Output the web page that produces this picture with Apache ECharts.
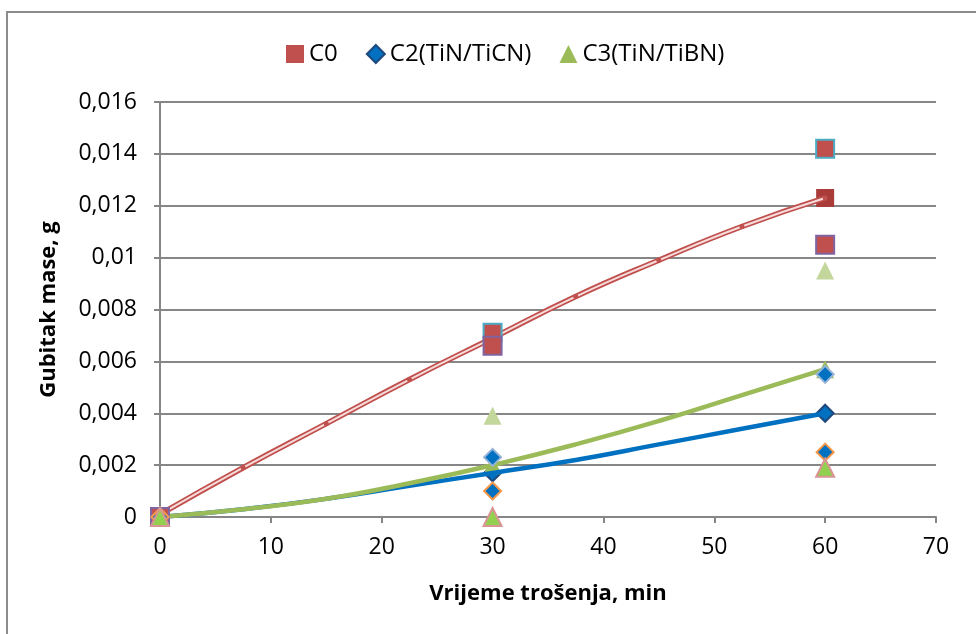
<!DOCTYPE html>
<html>
<head>
<meta charset="utf-8">
<script src="https://cdn.jsdelivr.net/npm/echarts@6/dist/echarts.min.js"></script>
<style>
  html, body { margin: 0; padding: 0; background: #fff; }
  #chart { width: 976px; height: 634px; }
</style>
</head>
<body>
<div id="chart"></div>
<script>
// measured samples, [time min, mass loss g]
const c0Upper = [[0, 0], [30, 0.0071], [60, 0.0142]]
const c0Lower = [[0, 0], [30, 0.0066], [60, 0.0105]]
const c0Mean = [[0, 0], [30, 0.0068], [60, 0.0123]]

const c2Upper = [[0, 0], [30, 0.0023], [60, 0.0055]]
const c2Lower = [[0, 0], [30, 0.0010], [60, 0.0025]]
const c2Mean = [[0, 0], [30, 0.0017], [60, 0.0040]]

const c3Upper = [[0, 0], [30, 0.0039], [60, 0.0095]]
const c3Lower = [[0, 0], [30, 0.0000], [60, 0.0019]]
const c3Mean = [[0, 0], [30, 0.0020], [60, 0.0057]]

// trend curves
const trendX = [0, 7.5, 15, 22.5, 30, 37.5, 45, 52.5, 60]
const c0Trend = [0.0001, 0.0019, 0.0036, 0.0053, 0.0069, 0.0085, 0.0099, 0.0112, 0.0123]
const c2Trend = [0, 0.0003, 0.0007, 0.0012, 0.0017, 0.0022, 0.0028, 0.0034, 0.0040]
const c3Trend = [0, 0.0003, 0.0007, 0.0013, 0.0020, 0.0028, 0.0037, 0.0047, 0.0057]

const seriesNames = ['C0', 'C2(TiN/TiCN)', 'C3(TiN/TiBN)']

const font = 'Open Sans'
const pair = (ys) => trendX.map((x, i) => [x, ys[i]])

const chart = echarts.init(document.getElementById('chart'))

function scatter(name, data, symbol, size, color, border, z) {
  return {
    name: name,
    type: 'scatter',
    data: data,
    symbol: symbol,
    symbolSize: size,
    z: z,
    itemStyle: { color: color, borderColor: border, borderWidth: border ? 2 : 0, opacity: 1 },
  }
}

const option = {
  animation: false,
  textStyle: { fontFamily: font },
  graphic: [
    {
      type: 'rect',
      shape: { x: 7, y: 12, width: 1000, height: 700 },
      style: { fill: 'none', stroke: '#8c8c8c', lineWidth: 2 },
    },
  ],
  legend: {
    top: 37,
    left: 281,
    itemWidth: 18,
    itemHeight: 18,
    itemGap: 28,
    textStyle: { fontFamily: font, fontSize: 24, color: '#000' },
    data: [
      { name: seriesNames[0], icon: 'rect', itemStyle: { color: '#c0504d' } },
      { name: seriesNames[1], icon: 'diamond', itemStyle: { color: '#0070c0' } },
      { name: seriesNames[2], icon: 'triangle', itemStyle: { color: '#9bbb59' } },
    ],
  },
  grid: { left: 160, right: 40, top: 102, bottom: 117 },
  xAxis: {
    type: 'value',
    min: 0,
    max: 70,
    interval: 10,
    name: 'Vrijeme trošenja, min',
    nameLocation: 'middle',
    nameGap: 66,
    nameTextStyle: { fontFamily: font, fontSize: 22, fontWeight: 'bold', color: '#000' },
    axisLine: { show: true, lineStyle: { color: '#868686', width: 2 } },
    axisTick: { show: true, length: 6, lineStyle: { color: '#868686', width: 2 } },
    axisLabel: { fontFamily: font, fontSize: 23, color: '#000', margin: 19 },
    splitLine: { show: false },
  },
  yAxis: {
    type: 'value',
    min: 0,
    max: 0.016,
    interval: 0.002,
    name: 'Gubitak mase, g',
    nameLocation: 'middle',
    nameGap: 100,
    nameRotate: 90,
    nameTextStyle: { fontFamily: font, fontSize: 22, fontWeight: 'bold', color: '#000' },
    axisLine: { show: true, lineStyle: { color: '#868686', width: 2 } },
    axisTick: { show: true, length: 6, lineStyle: { color: '#868686', width: 2 } },
    axisLabel: {
      fontFamily: font,
      fontSize: 23,
      color: '#000',
      margin: 23,
      formatter: (v) => (v === 0 ? '0' : String(+v.toFixed(3)).replace('.', ',')),
    },
    splitLine: { show: true, lineStyle: { color: '#868686', width: 2 } },
  },
  series: [
    // means sit under the trend lines
    scatter(seriesNames[0], c0Mean, 'rect', 18, '#a93b38', null, 2),
    scatter(seriesNames[1], c2Mean, 'diamond', 17, '#0070c0', '#1f497d', 2),
    scatter(seriesNames[2], c3Mean, 'triangle', 18, '#9bbb59', null, 2),

    // C0 trend: double red line with small dots
    {
      name: seriesNames[0],
      type: 'line',
      data: pair(c0Trend),
      smooth: true,
      symbol: 'none',
      z: 3,
      lineStyle: { color: '#c0504d', width: 5.5 },
    },
    {
      name: seriesNames[0],
      type: 'line',
      data: pair(c0Trend),
      smooth: true,
      symbol: 'circle',
      symbolSize: 5,
      showSymbol: true,
      z: 4,
      itemStyle: { color: '#c0504d' },
      lineStyle: { color: '#f6dcdb', width: 2 },
    },
    {
      name: seriesNames[1],
      type: 'line',
      data: pair(c2Trend),
      smooth: true,
      symbol: 'none',
      z: 3,
      lineStyle: { color: '#0070c0', width: 4.5 },
    },
    {
      name: seriesNames[2],
      type: 'line',
      data: pair(c3Trend),
      smooth: true,
      symbol: 'none',
      z: 4,
      lineStyle: { color: '#9bbb59', width: 4.5 },
    },

    // individual samples on top
    scatter(seriesNames[0], c0Upper, 'rect', 18, '#c0504d', '#4bacc6', 5),
    scatter(seriesNames[0], c0Lower, 'rect', 18, '#c0504d', '#8064a2', 5),
    scatter(seriesNames[1], c2Upper, 'diamond', 17, '#0070c0', '#95b3d7', 5),
    scatter(seriesNames[1], c2Lower, 'diamond', 17, '#0070c0', '#f79646', 5),
    scatter(seriesNames[2], c3Upper, 'triangle', 18, '#c3d69b', null, 5),
    scatter(seriesNames[2], c3Lower, 'triangle', 18, '#92d050', '#d99594', 5),
  ],
}

chart.setOption(option)
</script>
</body>
</html>
